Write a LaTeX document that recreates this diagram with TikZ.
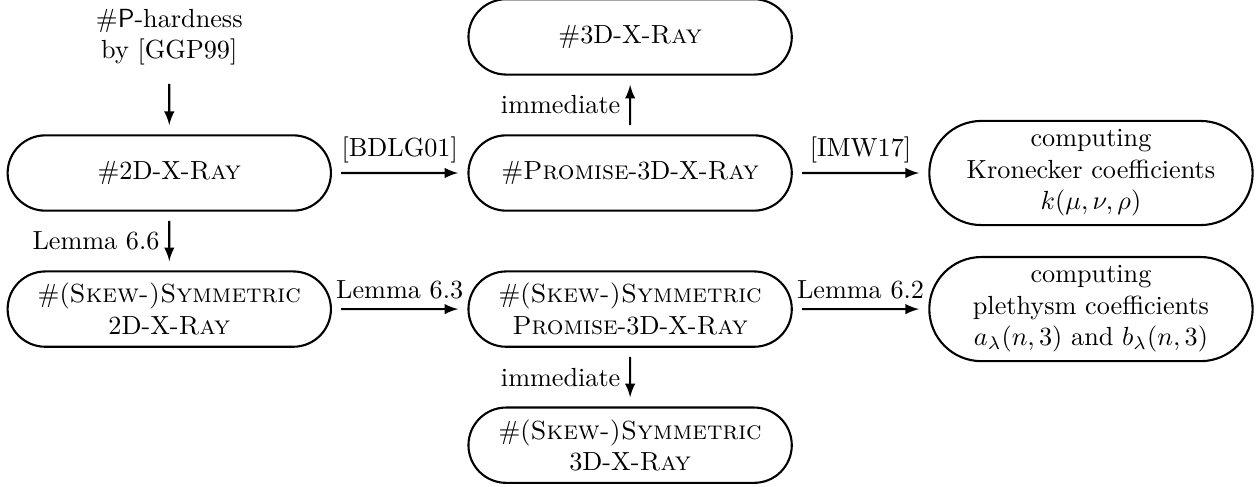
\documentclass[tikz,border=0pt]{standalone}
\usepackage{amsmath}
\usetikzlibrary{positioning, shapes.misc, arrows}

\begin{document}
\begin{tikzpicture}[>=latex, thick, node distance=1.825cm and 6.18cm, on grid,
    prob/.style={rounded rectangle, draw, minimum width=4.57cm, minimum height=1.01cm, align=center},
    every edge/.style={draw, shorten >=3.5pt, shorten <=3.5pt}]
    \useasboundingbox (-2.27,-4.20) rectangle (14.60,2.32);
    \node[prob] (s2d)                   {\#2D-X-\textsc{Ray}};
    \node[align=center] (hard) [above=of s2d] {\#\textsf{P}-hardness\\by [GGP99]};
    \node[prob] (p3d)  [right=of s2d]   {\#\textsc{Promise}-3D-X-\textsc{Ray}};
    \node[prob] (x3d)  [above=of p3d]   {\#3D-X-\textsc{Ray}};
    \node[prob] (kron) [right=of p3d]   {computing\\Kronecker coefficients\\$k(\mu,\nu,\rho)$};
    \node[prob] (sym2d) [below=of s2d]  {\#(\textsc{Skew-)Symmetric}\\2D-X-\textsc{Ray}};
    \node[prob] (symp3d) [right=of sym2d] {\#(\textsc{Skew-)Symmetric}\\\textsc{Promise}-3D-X-\textsc{Ray}};
    \node[prob] (pleth) [right=of symp3d] {computing\\plethysm coefficients\\$a_\lambda(n,3)$ and $b_\lambda(n,3)$};
    \node[prob] (sym3d) [below=of symp3d] {\#(\textsc{Skew-)Symmetric}\\3D-X-\textsc{Ray}};
    \path[->]
    (hard) edge (s2d)
    (s2d) edge node[above] {[BDLG01]} (p3d)
          edge node[left] {Lemma 6.6} (sym2d)
    (p3d) edge node[left] {immediate} (x3d)
          edge node[above] {[IMW17]} (kron)
    (sym2d) edge node[above] {Lemma 6.3} (symp3d)
    (symp3d) edge node[above] {Lemma 6.2} (pleth)
             edge node[left] {immediate} (sym3d)
    ;
\end{tikzpicture}
\end{document}
